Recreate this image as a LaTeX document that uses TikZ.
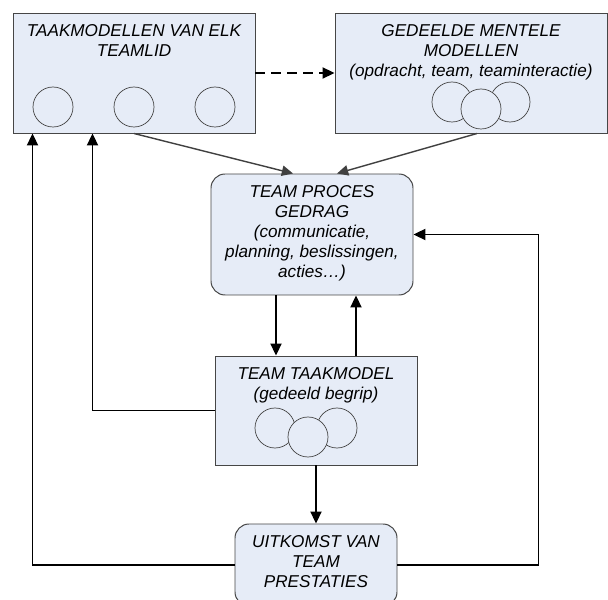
\documentclass[tikz,border=0pt]{standalone}
\usepackage{fontspec}
\setmainfont{Liberation Sans}
\usepackage{tikz}
\usetikzlibrary{arrows.meta,positioning,calc}
\definecolor{boxfill}{RGB}{230,236,247}
\definecolor{boxline}{RGB}{70,70,70}
\definecolor{greyline}{RGB}{64,64,64}
\tikzset{
  base/.style={font=\fontsize{12.2}{14.2}\selectfont\itshape, align=center, inner sep=0pt, text=black},
  box/.style={rectangle, draw=boxline, fill=boxfill, line width=0.7pt},
  rbox/.style={box, rounded corners=10pt},
  hdr/.style={base, anchor=north, yshift=-3mm},
  disc/.style={draw=boxline, fill=boxfill, line width=0.5pt},
  arr/.style={-{Triangle[length=3mm,width=2.8mm]}, line width=1pt, draw=black},
  arrd/.style={arr, dash pattern=on 2.5mm off 1.5mm},
  arrg/.style={-{Triangle[length=2.8mm,width=2.6mm]}, line width=1pt, draw=greyline},
}
\begin{document}
\begin{tikzpicture}
  \clip (0,0) rectangle (15.2,15);
  % boxes
  \node[box, minimum width=6.05cm, minimum height=3cm] (A) at (3.35,13.175) {};
  \node[box, minimum width=6.8cm, minimum height=3cm] (B) at (11.775,13.175) {};
  \node[rbox, minimum width=5.05cm, minimum height=3.025cm] (C) at (7.8,9.1375) {};
  \node[box, minimum width=5.05cm, minimum height=2.725cm] (D) at (7.9,4.7375) {};
  \node[rbox, minimum width=4.05cm, minimum height=2.05cm] (E) at (7.9,0.875) {};
  % texts
  \node[hdr] (At) at (A.north) {TAAKMODELLEN VAN ELK\\TEAMLID};
  \node[hdr] (Bt) at (B.north) {GEDEELDE MENTELE\\MODELLEN\\(opdracht, team, teaminteractie)};
  \node[hdr] (Ct) at (C.north) {TEAM PROCES\\GEDRAG\\(communicatie,\\planning, beslissingen,\\acties…)};
  \node[hdr] (Dt) at (D.north) {TEAM TAAKMODEL\\(gedeeld begrip)};
  \node[hdr] (Et) at (E.north) {UITKOMST VAN\\TEAM\\PRESTATIES};
  % circles
  \foreach \dx in {-2.025,0,2.025}
    \draw[disc] ($(A)+(\dx,-0.85)$) circle (0.5);
  \foreach \dx/\dy in {-0.475/-0.725,0.975/-0.725,0.25/-0.9}
    \draw[disc] ($(B)+(\dx,\dy)$) circle (0.5);
  \foreach \dx/\dy in {-1.025/-0.4375,0.525/-0.4375,-0.2/-0.6625}
    \draw[disc] ($(D)+(\dx,\dy)$) circle (0.5);
  % connectors
  \draw[arrd] (A.east) -- (B.west);
  \draw[arrg] (A.south) -- ($(C.north)+(-0.475,0)$);
  \draw[arrg] ($(B.south)+(0.15,0)$) -- ($(C.north)+(0.625,0)$);
  \draw[arr] ([xshift=-9mm]C.south) -- ([xshift=-9mm]C.south |- D.north);
  \draw[arr] ([xshift=10mm]D.north) -- ([xshift=10mm]D.north |- C.south);
  \draw[arr] (D.south) -- (E.north);
  \draw[arr] (D.west) -| ([xshift=20mm]A.south west);
  \draw[arr] (E.west) -| ([xshift=5mm]A.south west);
  \draw[arr] (E.east) -| ([xshift=31.25mm]C.east) -- (C.east);
\end{tikzpicture}
\end{document}
